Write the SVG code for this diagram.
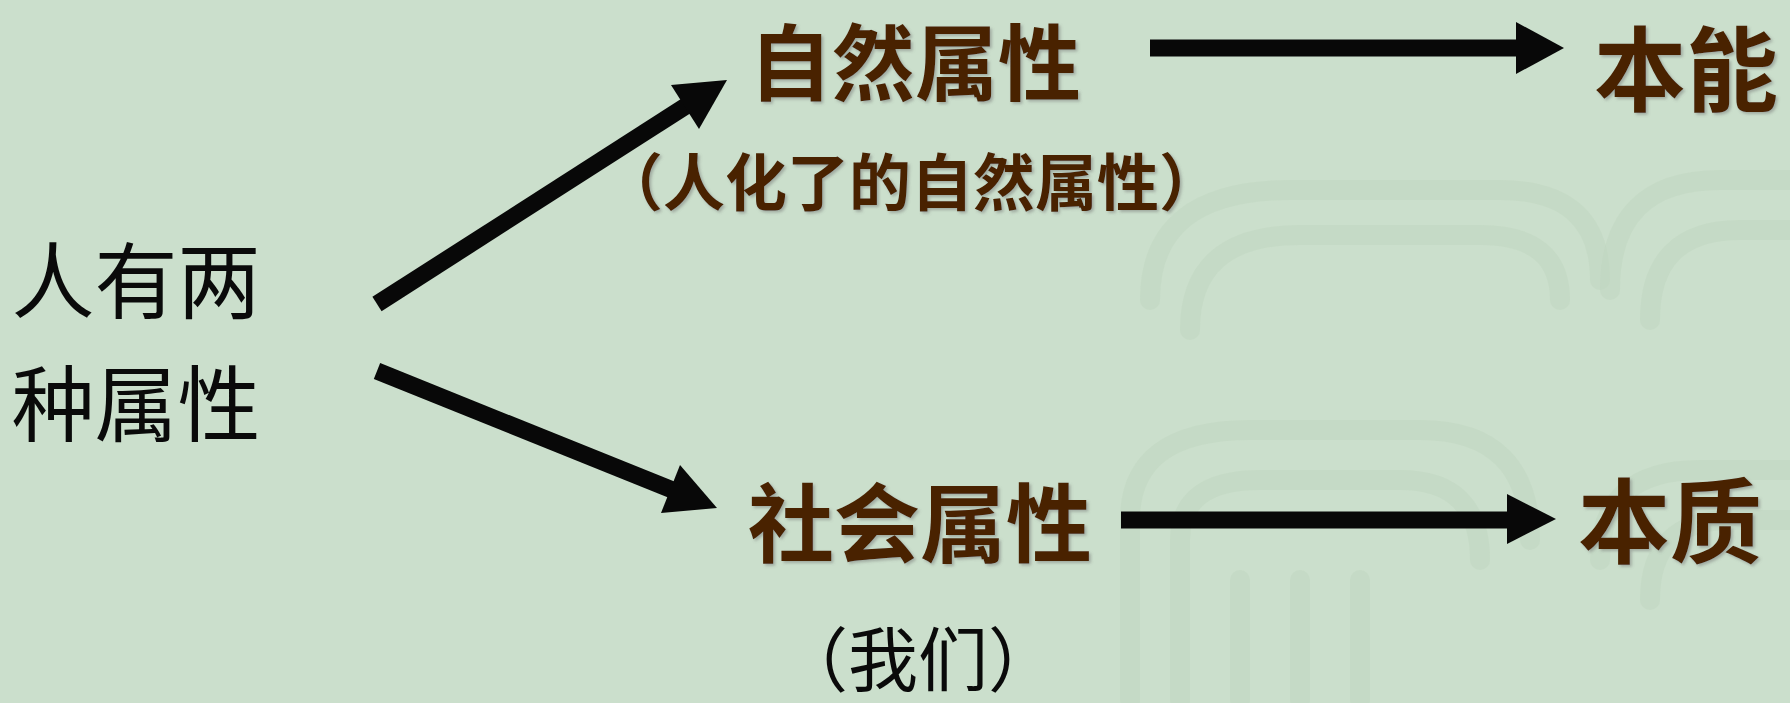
<svg xmlns="http://www.w3.org/2000/svg" width="1790" height="703" viewBox="0 0 1790 703">
<style>
.bg{fill:#cbdfcc}
.tex{fill:none;stroke:#bed4bf;stroke-width:20;stroke-linecap:round;opacity:0.45}
.blk{font-family:"Noto Sans CJK SC","Noto Sans CJK TC",sans-serif;fill:#0a0a0a;font-weight:400;text-anchor:middle}
.brn{font-family:"Noto Sans CJK SC","Noto Sans CJK TC",sans-serif;fill:#4a2404;font-weight:700;text-anchor:middle;filter:url(#sh)}
.shaft{stroke:#080808;stroke-width:17;fill:none}
.head{fill:#080808}
</style>
<defs>
<filter id="sh" x="-20%" y="-40%" width="140%" height="180%">
<feDropShadow dx="2" dy="2" stdDeviation="1.5" flood-color="#6b6b6b" flood-opacity="0.45"/>
</filter>
</defs>
<rect class="bg" x="0" y="0" width="1790" height="703"/>
<g id="background-texture">
<path class="tex" d="M1150 300 Q1150 190 1290 190 L1500 190 Q1600 190 1600 280"/>
<path class="tex" d="M1190 330 Q1190 235 1300 235 L1480 235 Q1560 235 1560 300"/>
<path class="tex" d="M1610 290 Q1610 180 1720 180 L1790 180"/>
<path class="tex" d="M1650 320 Q1650 230 1740 230 L1790 230"/>
<path class="tex" d="M1130 700 L1130 520 Q1130 430 1250 430 L1420 430 Q1530 430 1530 540"/>
<path class="tex" d="M1180 700 L1180 540 Q1180 480 1260 480 L1400 480 Q1480 480 1480 560"/>
<path class="tex" d="M1240 700 L1240 580"/>
<path class="tex" d="M1300 700 L1300 580"/>
<path class="tex" d="M1360 700 L1360 580"/>
<path class="tex" d="M1600 560 Q1600 470 1700 470 L1790 470"/>
<path class="tex" d="M1650 600 Q1650 520 1730 520 L1790 520"/>
</g>
<g id="connectors">
<line class="shaft" x1="377" y1="304" x2="689" y2="104"/>
<polygon class="head" points="727,80 699,129 671,85"/>
<line class="shaft" x1="377" y1="371" x2="675" y2="491"/>
<polygon class="head" points="717,508 661,513 680,465"/>
<line class="shaft" x1="1150" y1="48" x2="1520" y2="48"/>
<polygon class="head" points="1516,22 1564,48 1516,74"/>
<line class="shaft" x1="1121" y1="520" x2="1511" y2="520"/>
<polygon class="head" points="1507,494 1556,519 1507,544"/>
</g>
<g id="node-person">
<text class="blk" x="136" y="312" font-size="83">人有两</text>
<text class="blk" x="136" y="435" font-size="83">种属性</text>
</g>
<g id="node-natural">
<text class="brn" x="915" y="94" font-size="83">自然属性</text>
<text class="brn" x="911" y="206" font-size="62">（人化了的自然属性）</text>
</g>
<g id="node-instinct">
<text class="brn" x="1686" y="104" font-size="92">本能</text>
</g>
<g id="node-social">
<text class="brn" x="920" y="556" font-size="86">社会属性</text>
</g>
<g id="node-essence">
<text class="brn" x="1670" y="556" font-size="92">本质</text>
</g>
<g id="node-us">
<text class="blk" x="918" y="686" font-size="70">（我们）</text>
</g>
</svg>
